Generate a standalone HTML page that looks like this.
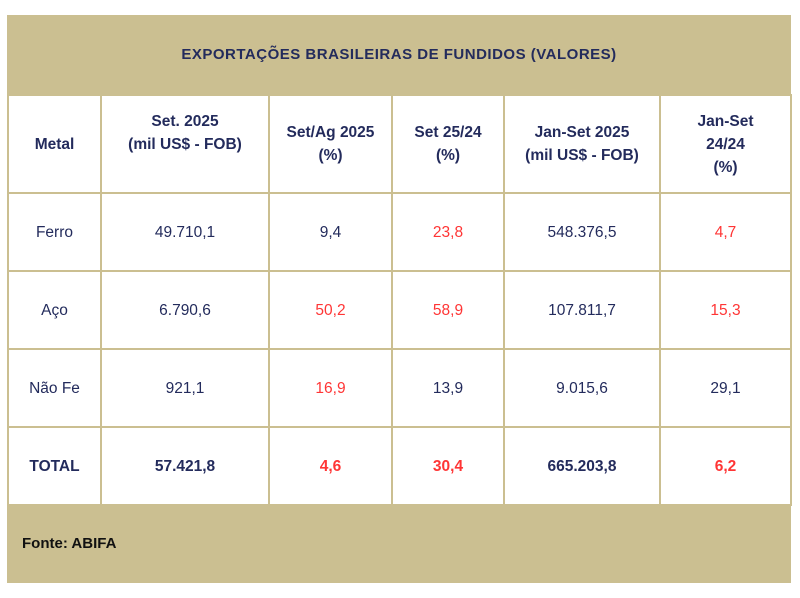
<!DOCTYPE html>
<html><head><style>
body{margin:0;width:800px;height:598px;background:#fff;font-family:"Liberation Sans",sans-serif;position:relative;overflow:hidden}
.box{position:absolute;left:7px;top:15px;width:784px;height:568px;background:#cbbf91}
.title{position:absolute;left:7px;top:15px;width:784px;height:79px;line-height:80px;text-align:center;color:#232b5c;font-weight:bold;font-size:15px;letter-spacing:0.5px}
table{position:absolute;left:7px;top:94px;border-collapse:collapse;table-layout:fixed}
td{border:2px solid #cbbf91;background:#fff;text-align:center;color:#232b5c;font-size:15.5px;padding:0;line-height:23px}
tr.h td{font-weight:bold;height:96px;vertical-align:middle}
tr.r td{height:76px}
tr.t td{font-weight:bold}
.red{color:#ff3535}
.foot{position:absolute;left:22px;top:535px;font-weight:bold;font-size:15px;color:#111}
</style></head><body>
<div class="box"></div>
<div class="title">EXPORTAÇÕES BRASILEIRAS DE FUNDIDOS (VALORES)</div>
<table>
<colgroup><col style="width:93px"><col style="width:168px"><col style="width:123px"><col style="width:112px"><col style="width:156px"><col style="width:131px"></colgroup>
<tr class="h"><td>Metal</td><td><div style="margin-bottom:22px">Set. 2025<br>(mil US$ - FOB)</div></td><td>Set/Ag 2025<br>(%)</td><td>Set 25/24<br>(%)</td><td>Jan-Set 2025<br>(mil US$ - FOB)</td><td>Jan-Set<br>24/24<br>(%)</td></tr>
<tr class="r"><td>Ferro</td><td>49.710,1</td><td>9,4</td><td class="red">23,8</td><td>548.376,5</td><td class="red">4,7</td></tr>
<tr class="r"><td>Aço</td><td>6.790,6</td><td class="red">50,2</td><td class="red">58,9</td><td>107.811,7</td><td class="red">15,3</td></tr>
<tr class="r"><td>Não Fe</td><td>921,1</td><td class="red">16,9</td><td>13,9</td><td>9.015,6</td><td>29,1</td></tr>
<tr class="r t"><td>TOTAL</td><td>57.421,8</td><td class="red">4,6</td><td class="red">30,4</td><td>665.203,8</td><td class="red">6,2</td></tr>
</table>
<div class="foot">Fonte: ABIFA</div>
</body></html>
